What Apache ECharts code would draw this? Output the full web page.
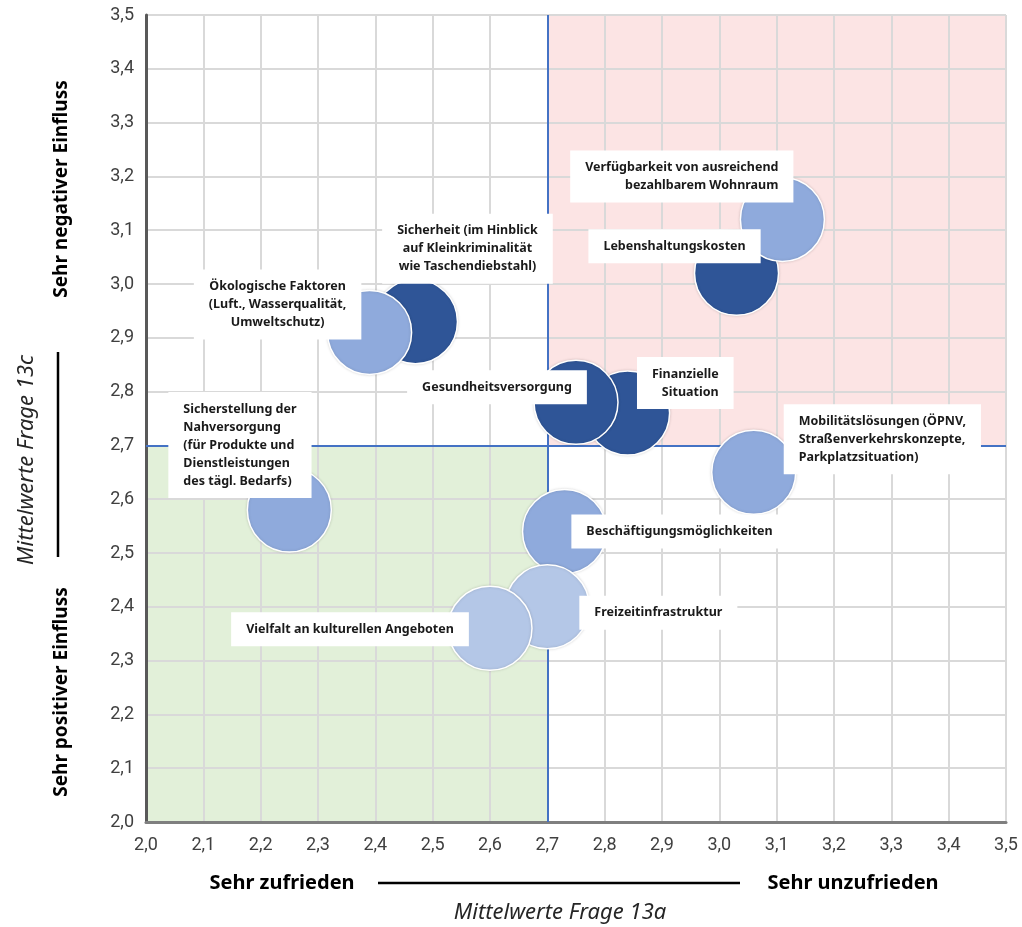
<!DOCTYPE html>
<html>
<head>
<meta charset="utf-8">
<script src="https://cdn.jsdelivr.net/npm/echarts@6/dist/echarts.min.js"></script>
<style>
  html, body { margin: 0; padding: 0; background: #fff; }
  #chart { width: 1022px; height: 927px; }
</style>
</head>
<body>
<div id="chart"></div>
<script>
// Mittelwerte Frage 13a (x) und Frage 13c (y)
const names = [
    'Lebenshaltungskosten',
    'Sicherheit (im Hinblick\nauf Kleinkriminalität\nwie Taschendiebstahl)',
    'Finanzielle\nSituation',
    'Gesundheitsversorgung',
    'Verfügbarkeit von ausreichend\nbezahlbarem Wohnraum',
    'Ökologische Faktoren\n(Luft., Wasserqualität,\nUmweltschutz)',
    'Mobilitätslösungen (ÖPNV,\nStraßenverkehrskonzepte,\nParkplatzsituation)',
    'Sicherstellung der\nNahversorgung\n(für Produkte und\nDienstleistungen\ndes tägl. Bedarfs)',
    'Beschäftigungsmöglichkeiten',
    'Freizeitinfrastruktur',
    'Vielfalt an kulturellen Angeboten'
];
const xValues = [3.03, 2.47, 2.84, 2.75, 3.11, 2.39, 3.06, 2.25, 2.73, 2.70, 2.60];
const yValues = [3.02, 2.93, 2.76, 2.78, 3.12, 2.91, 2.65, 2.58, 2.54, 2.40, 2.36];
// farbgruppe: 0 = dunkel, 1 = mittel, 2 = hell
const groups = [0, 0, 0, 0, 1, 1, 1, 1, 1, 2, 2];
const xTicks = { min: 2.0, max: 3.5, step: 0.1 };
const yTicks = { min: 2.0, max: 3.5, step: 0.1 };
const splitValue = 2.7;

const groupColors = ['#2F5597', '#8FAADC', '#B4C7E7'];

// label placement relative to the bubble centre (align, offset)
const labelPlacement = [
    ['center', [-62, -27]],
    ['center', [52, -73]],
    ['right', [106, -30]],
    ['center', [-79, -15]],
    ['right', [11, -43]],
    ['center', [-92, -28]],
    ['left', [30, -33]],
    ['left', [-121, -65]],
    ['center', [115, 0]],
    ['center', [111, 6]],
    ['center', [-140, 1]]
];

const fmt = v => v.toFixed(1).replace('.', ',');
const BUBBLE = 84;
const SANS = 'Roboto, "DejaVu Sans", sans-serif';

const chart = echarts.init(document.getElementById('chart'));

const bubbleSeries = groupColors.map((color, g) => ({
    type: 'scatter',
    z: 3,
    symbolSize: BUBBLE,
    silent: true,
    itemStyle: {
        color: color,
        opacity: 1,
        borderColor: '#ffffff',
        borderWidth: 1.5,
        shadowColor: 'rgba(0,0,0,0.15)',
        shadowBlur: 3
    },
    data: names.map((n, i) => i).filter(i => groups[i] === g).map(i => [xValues[i], yValues[i]])
}));

const labelSeries = {
    type: 'scatter',
    z: 6,
    symbolSize: BUBBLE,
    silent: true,
    itemStyle: { color: 'rgba(0,0,0,0)', opacity: 1 },
    data: names.map((n, i) => ({
        value: [xValues[i], yValues[i]],
        name: n,
        label: {
            align: labelPlacement[i][0],
            offset: labelPlacement[i][1]
        }
    })),
    label: {
        show: true,
        position: 'inside',
        opacity: 1,
        formatter: p => p.name,
        fontFamily: 'Noto Sans',
        fontWeight: 'bold',
        fontSize: 12.5,
        lineHeight: 18,
        color: '#1a1a1a',
        backgroundColor: '#ffffff',
        padding: [8, 15]
    }
};

const areaSeries = {
    type: 'scatter',
    z: 0,
    silent: true,
    data: [],
    markArea: {
        silent: true,
        z: 0,
        data: [
            [
                { coord: [splitValue, splitValue], itemStyle: { color: '#FCE4E4' } },
                { coord: [xTicks.max, yTicks.max] }
            ],
            [
                { coord: [xTicks.min, yTicks.min], itemStyle: { color: '#E2F0D9' } },
                { coord: [splitValue, splitValue] }
            ]
        ]
    },
    markLine: {
        silent: true,
        z: 2,
        symbol: 'none',
        label: { show: false },
        lineStyle: { color: '#4472C4', width: 2, type: 'solid' },
        data: [{ xAxis: splitValue }, { yAxis: splitValue }]
    }
};

chart.setOption({
    animation: false,
    grid: {
        left: 146,
        right: 16,
        top: 15,
        bottom: 105
    },
    xAxis: {
        type: 'value',
        z: 1,
        min: xTicks.min,
        max: xTicks.max,
        interval: xTicks.step,
        axisLine: { show: true, onZero: false, lineStyle: { color: '#7F7F7F', width: 3 } },
        axisTick: { show: false },
        axisLabel: {
            formatter: fmt,
            fontFamily: SANS,
            fontSize: 18,
            color: '#404040',
            margin: 14
        },
        splitLine: { show: true, lineStyle: { color: '#D9D9D9', width: 2 } }
    },
    yAxis: {
        type: 'value',
        z: 1,
        min: yTicks.min,
        max: yTicks.max,
        interval: yTicks.step,
        axisLine: { show: true, onZero: false, lineStyle: { color: '#595959', width: 3 } },
        axisTick: { show: false },
        axisLabel: {
            formatter: fmt,
            fontFamily: SANS,
            fontSize: 18,
            color: '#404040',
            margin: 12
        },
        splitLine: { show: true, lineStyle: { color: '#D9D9D9', width: 2 } }
    },
    graphic: [
        {
            type: 'text', x: 282, y: 883,
            style: { text: 'Sehr zufrieden', font: 'bold 20px "Noto Sans"', fill: '#000', textAlign: 'center', textVerticalAlign: 'middle' }
        },
        {
            type: 'line', shape: { x1: 378, y1: 883, x2: 740, y2: 883 },
            style: { stroke: '#000', lineWidth: 2.5 }
        },
        {
            type: 'text', x: 853, y: 883,
            style: { text: 'Sehr unzufrieden', font: 'bold 20px "Noto Sans"', fill: '#000', textAlign: 'center', textVerticalAlign: 'middle' }
        },
        {
            type: 'text', x: 560, y: 913,
            style: { text: 'Mittelwerte Frage 13a', font: 'italic 22px "Noto Sans"', fill: '#262626', textAlign: 'center', textVerticalAlign: 'middle' }
        },
        {
            type: 'text', x: 62, y: 189, rotation: Math.PI / 2,
            style: { text: 'Sehr negativer Einfluss', font: 'bold 19px "Noto Sans"', fill: '#000', textAlign: 'center', textVerticalAlign: 'middle' }
        },
        {
            type: 'line', shape: { x1: 58, y1: 352, x2: 58, y2: 557 },
            style: { stroke: '#000', lineWidth: 2.5 }
        },
        {
            type: 'text', x: 62, y: 692, rotation: Math.PI / 2,
            style: { text: 'Sehr positiver Einfluss', font: 'bold 19px "Noto Sans"', fill: '#000', textAlign: 'center', textVerticalAlign: 'middle' }
        },
        {
            type: 'text', x: 27, y: 460, rotation: Math.PI / 2,
            style: { text: 'Mittelwerte Frage 13c', font: 'italic 22px "Noto Sans"', fill: '#262626', textAlign: 'center', textVerticalAlign: 'middle' }
        }
    ],
    series: [areaSeries].concat(bubbleSeries, [labelSeries])
});
</script>
</body>
</html>
